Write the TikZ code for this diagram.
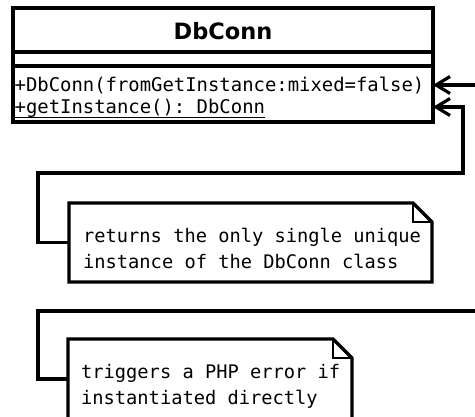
\documentclass[tikz,border=0pt]{standalone}
\usepackage{fontspec}
\setmainfont{DejaVu Sans}
\setmonofont{DejaVu Sans Mono}
\usetikzlibrary{arrows.meta}

\newcommand\umlstatic[1]{\setbox0\hbox{#1}\rlap{\rule[-4pt]{\wd0}{1.4pt}}\box0}

\tikzset{
  wire/.style={line width=3.2pt},
  link/.style={line width=3.2pt, -{Straight Barb[length=14pt,width=17pt]}},
  frame/.style={draw, line width=3.2pt, inner sep=0pt, outer sep=0pt, anchor=north west},
  notebox/.style={inner sep=0pt, outer sep=0pt, anchor=north west},
  title/.style={font=\fontsize{22.5}{27}\selectfont\bfseries, inner sep=0pt, anchor=base},
  meth/.style={font=\ttfamily\fontsize{18.9}{22}\selectfont, inner sep=0pt, anchor=base west},
  notetext/.style={font=\ttfamily\fontsize{18.7}{25.5}\selectfont, align=left, inner sep=0pt, anchor=base west}
}

\begin{document}
\begin{tikzpicture}[x=1pt, y=-1pt]

\useasboundingbox (0,0) rectangle (475,417);

\node[frame, minimum width=420pt, minimum height=114pt] (cls) at (13,8) {};
\draw[wire] ([yshift=-44pt]cls.north west) -- ([yshift=-44pt]cls.north east);
\draw[wire] ([yshift=-58pt]cls.north west) -- ([yshift=-58pt]cls.north east);

\node[title] (name) at (223,40) {DbConn};
\node[meth] (ctor) at (14.5,92) {+DbConn(fromGetInstance:mixed=false)};
\node[meth] (getinst) at (14.5,114) {\umlstatic{+getInstance(): DbConn}};

\coordinate (c1) at ([yshift=7pt]ctor.base);
\coordinate (c2) at ([yshift=7pt]getinst.base);

\node[notebox, minimum width=363pt, minimum height=79pt] (n1) at (69,203) {};
\filldraw[wire, fill=white] (n1.south west) -- (n1.north west) -- ([xshift=-19pt]n1.north east)
  -- ([yshift=-19pt]n1.north east) -- (n1.south east) -- cycle;
\draw[line width=1.5pt] ([xshift=-19pt]n1.north east) |- ([yshift=-19pt]n1.north east);
\node[notetext] (t1) at ([shift={(14,65.5)}]n1.north west) {returns the only single unique\\instance of the DbConn class};

\node[notebox, minimum width=284pt, minimum height=80pt] (n2) at (68,339) {};
\filldraw[wire, fill=white] (n2.south west) -- (n2.north west) -- ([xshift=-19pt]n2.north east)
  -- ([yshift=-19pt]n2.north east) -- (n2.south east) -- cycle;
\draw[line width=1.5pt] ([xshift=-19pt]n2.north east) |- ([yshift=-19pt]n2.north east);
\node[notetext] (t2) at ([shift={(13,65.5)}]n2.north west) {triggers a PHP error if\\instantiated directly};

\coordinate (off1) at (480,85);
\coordinate (off2) at (480,311);
\coordinate (bend) at (463,173);

\draw[link] (off1) -- (c1 -| cls.east);
\draw[link] (n1.west) -| (38,173) -- (bend) -- (bend |- c2) -- (c2 -| cls.east);
\draw[wire] (n2.west) -| (38,311) -- (off2);

\end{tikzpicture}
\end{document}
